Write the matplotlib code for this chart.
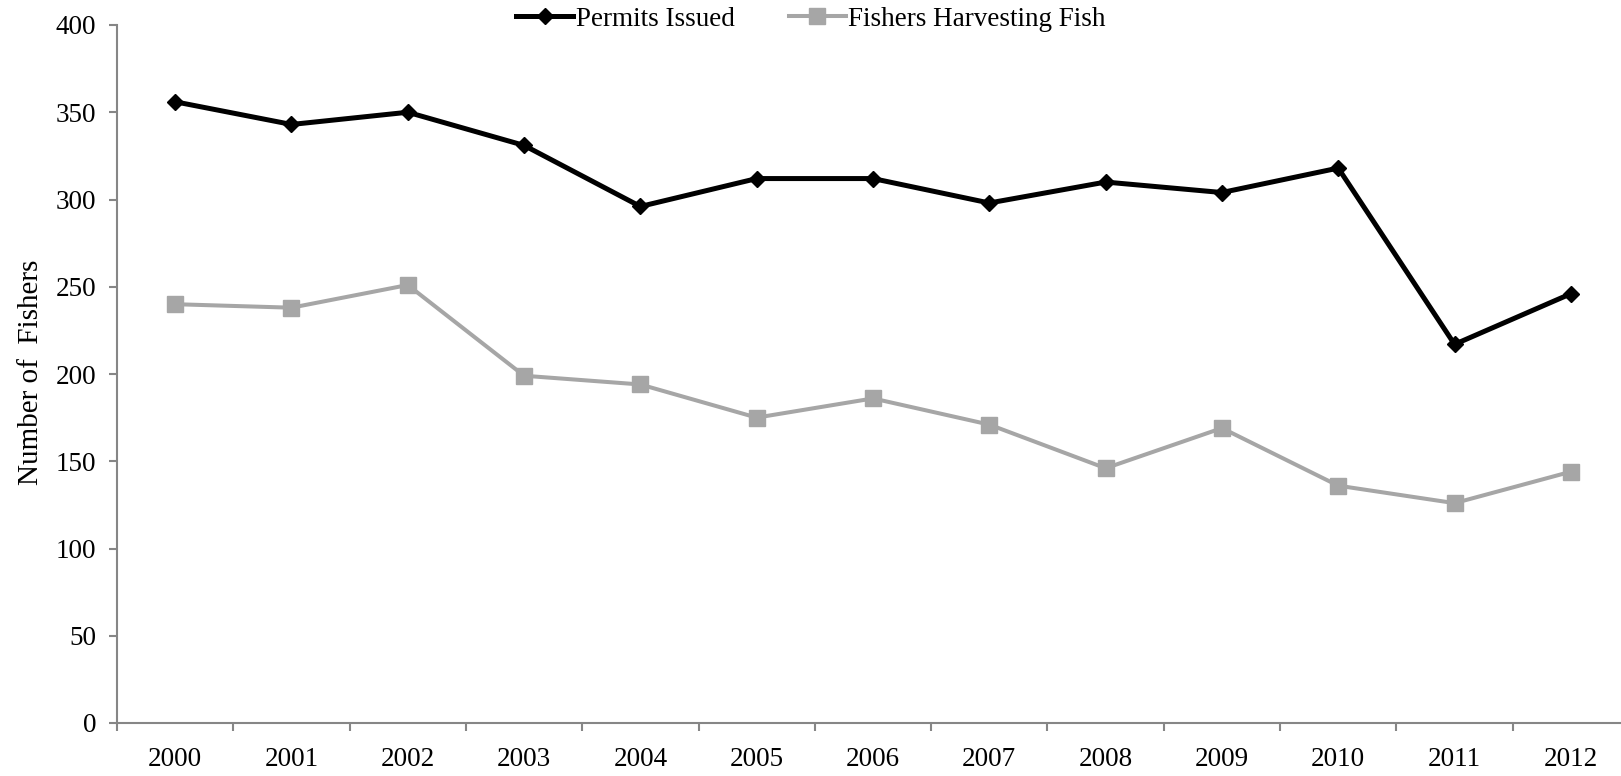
import matplotlib
matplotlib.use("Agg")
import matplotlib.pyplot as plt
from matplotlib.ticker import FixedLocator

plt.rcParams["font.family"] = ["Liberation Serif", "DejaVu Serif"]

years = ["2000", "2001", "2002", "2003", "2004", "2005", "2006",
         "2007", "2008", "2009", "2010", "2011", "2012"]
permits_issued = [356, 343, 350, 331, 296, 312, 312, 298, 310, 304, 318, 217, 246]
fishers_harvesting = [240, 238, 251, 199, 194, 175, 186, 171, 146, 169, 136, 126, 144]
y_ticks = [0, 50, 100, 150, 200, 250, 300, 350, 400]

W, H = 1621, 776
fig = plt.figure(figsize=(W / 100, H / 100), dpi=100)

left_px, right_px, top_px, bottom_px = 117, 1629, 25, 723
ax = fig.add_axes([left_px / W, 1 - bottom_px / H,
                   (right_px - left_px) / W, (bottom_px - top_px) / H])

x = list(range(len(years)))
gray = "#A6A6A6"
ax.plot(x, permits_issued, color="black", lw=3.6, marker="D", ms=8,
        markeredgecolor="black", label="Permits Issued", zorder=3,
        solid_joinstyle="round")
ax.plot(x, fishers_harvesting, color=gray, lw=2.9, marker="s", ms=11.5,
        markeredgecolor=gray, label="Fishers Harvesting Fish", zorder=2,
        solid_joinstyle="round")

ax.set_xlim(-0.5, len(years) - 0.5)
ax.set_ylim(0, 400)
ax.set_yticks(y_ticks)
ax.set_yticklabels([str(v) for v in y_ticks])

ax.set_xticks(x)
ax.set_xticklabels(years)
ax.xaxis.set_minor_locator(FixedLocator([i - 0.5 for i in range(len(years) + 1)]))

spine_color = "#868686"
for side in ("top", "right"):
    ax.spines[side].set_visible(False)
for side in ("left", "bottom"):
    ax.spines[side].set_color(spine_color)
    ax.spines[side].set_linewidth(1.5)

ax.tick_params(axis="y", which="major", direction="out", length=6, width=1.5,
               color=spine_color, labelsize=19.5, pad=9)
ax.tick_params(axis="x", which="major", length=0, labelsize=19.5, pad=17)
ax.tick_params(axis="x", which="minor", direction="out", length=6, width=1.5,
               color=spine_color)

fig.text(31 / W, 1 - 372 / H, "Number of  Fishers", rotation=90,
         ha="center", va="center", fontsize=21)

fig.legend(loc="center", bbox_to_anchor=(811 / W, 1 - 19 / H), ncol=2,
           frameon=False, fontsize=19.5, handlelength=2.1, handletextpad=0.1,
           columnspacing=2.0, borderaxespad=0)

fig.savefig("out.png", dpi=100)
